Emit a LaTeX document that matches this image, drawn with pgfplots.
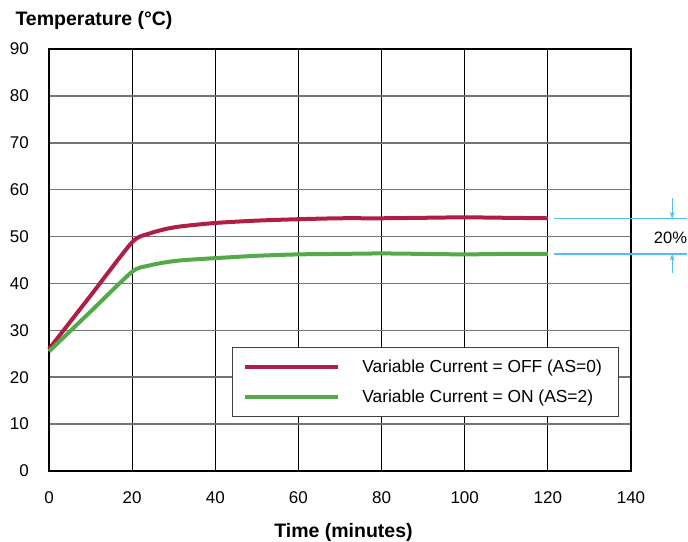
\documentclass[border=0pt]{standalone}
\usepackage{fontspec}
\setmainfont{Liberation Sans}
\usepackage{pgfplots}
\pgfplotsset{compat=1.18}
\usetikzlibrary{arrows.meta}
\definecolor{offred}{RGB}{176,30,70}
\definecolor{ongreen}{RGB}{82,170,72}
\definecolor{dimblue}{RGB}{85,190,235}

\begin{document}
\begin{tikzpicture}
\begin{axis}[
    name=ax,
    scale only axis,
    width=582bp,
    height=422bp,
    xmin=0, xmax=140,
    ymin=0, ymax=90,
    xtick={0,20,...,140},
    ytick={0,10,...,90},
    major tick length=0pt,
    grid=major,
    x grid style={black, line width=0.9bp},
    y grid style={black!55, line width=1.6bp},
    axis line style={black, line width=1.4bp},
    tick label style={font=\fontsize{17bp}{20bp}\selectfont, inner sep=0pt},
    xticklabel style={yshift=-20.5bp},
    yticklabel style={xshift=-20bp},
    /pgf/number format/assume math mode=true,
    clip=false,
    legend cell align=left,
    legend style={
        at={(rel axis cs:0.979,0.129)},
        anchor=south east,
        draw=black!75,
        line width=0.9bp,
        inner xsep=10.5bp,
        inner ysep=12.5bp,
        font=\fontsize{17.4bp}{20bp}\selectfont,
        row sep=15.5bp,
        nodes={inner sep=0pt},
        /tikz/every odd column/.append style={column sep=22bp},
    },
    legend image code/.code={\draw[#1, line width=4bp] (0bp,0bp) -- (93bp,0bp);},
]

\addplot[offred, line width=4bp, smooth, tension=0.4] coordinates {
    (0,26) (10,37.4) (20,48.8) (24,50.6) (28,51.6) (32,52.2) (40,52.9)
    (50,53.4) (60,53.7) (70,53.9) (80,53.9) (90,54.0) (100,54.1) (110,54.0) (120,53.9)
};
\addlegendentry{Variable Current = OFF (AS=0)\hspace*{6bp}}

\addplot[ongreen, line width=4bp, smooth, tension=0.4] coordinates {
    (0,25.5) (10,34) (20,42.5) (24,43.8) (28,44.5) (32,44.95) (40,45.4)
    (50,45.9) (60,46.2) (70,46.3) (80,46.4) (90,46.3) (100,46.2) (110,46.3) (120,46.3)
};
\addlegendentry{Variable Current = ON (AS=2)}

% 20% dimension marks
\draw[dimblue, line width=1.2bp] (axis cs:121.5,53.8) -- (axis cs:153.5,53.8);
\draw[dimblue, line width=1.2bp] (axis cs:121.5,46.3) -- (axis cs:153.5,46.3);
\draw[dimblue, line width=1bp, -{Stealth[length=7bp,width=5bp]}] (axis cs:149.9,58.2) -- (axis cs:149.9,53.8);
\draw[dimblue, line width=1bp, -{Stealth[length=7bp,width=5bp]}] (axis cs:149.9,42.2) -- (axis cs:149.9,46.3);
\node[font=\fontsize{16.5bp}{20bp}\selectfont] at (axis cs:149.5,49.8) {20\%};
\end{axis}

\node[anchor=base west, font=\bfseries\fontsize{19.5bp}{22bp}\selectfont]
    at ([shift={(-37bp,23bp)}]ax.north west) {Temperature (°C)};
\node[anchor=base, font=\bfseries\fontsize{19.5bp}{22bp}\selectfont]
    at ([shift={(3.5bp,-66bp)}]ax.south) {Time (minutes)};

\pgfresetboundingbox
\path ([shift={(-49bp,-71bp)}]ax.south west) rectangle ([shift={(57bp,49bp)}]ax.north east);
\end{tikzpicture}
\end{document}
